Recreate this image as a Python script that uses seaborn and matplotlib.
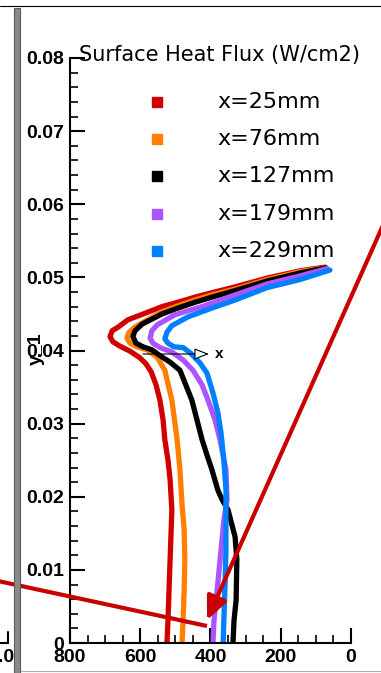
import numpy as np
import pandas as pd
import matplotlib
matplotlib.use("Agg")
import matplotlib.pyplot as plt
from matplotlib.lines import Line2D
from matplotlib.patches import Rectangle, FancyArrowPatch
from matplotlib.ticker import MultipleLocator
import seaborn as sns

# surface heat flux (W/cm2) vs y
red_x = [524, 521, 518, 515, 512, 510, 515, 521, 530, 535, 544, 555, 569, 584, 601, 629,
         658, 678, 686, 680, 663, 635, 586, 538, 493, 444, 396, 330, 239, 145, 74]
red_y = [0, 0.0031, 0.0073, 0.0114, 0.0155, 0.0182, 0.0223, 0.0250, 0.0278, 0.0305, 0.0332,
         0.0353, 0.0371, 0.0382, 0.0390, 0.0399, 0.0406, 0.0412, 0.0419, 0.0427, 0.0432,
         0.0442, 0.0451, 0.0460, 0.0466, 0.0473, 0.0479, 0.0487, 0.0499, 0.0509, 0.0514]

orange_x = [481, 478, 475, 473, 475, 481, 487, 495, 510, 530, 552, 581, 609, 629, 638, 632,
            615, 586, 538, 493, 444, 396, 330, 239, 145, 74]
orange_y = [0, 0.0031, 0.0073, 0.0114, 0.0155, 0.0189, 0.0237, 0.0278, 0.0332, 0.0373, 0.0391,
            0.0401, 0.0405, 0.0410, 0.0417, 0.0425, 0.0432, 0.0440, 0.0453, 0.0461, 0.0469,
            0.0476, 0.0484, 0.0497, 0.0508, 0.0513]

black_x = [336, 333, 327, 325, 330, 350, 367, 379, 396, 410, 424, 453, 487, 515, 544, 567,
           592, 612, 621, 615, 595, 538, 493, 444, 396, 330, 239, 145, 71]
black_y = [0, 0.0031, 0.0059, 0.0114, 0.0145, 0.0182, 0.0196, 0.0209, 0.0237, 0.0257, 0.0278,
           0.0332, 0.0373, 0.0384, 0.0393, 0.0401, 0.0405, 0.0410, 0.0419, 0.0427, 0.0436,
           0.0450, 0.0458, 0.0466, 0.0473, 0.0482, 0.0495, 0.0506, 0.0513]

purple_x = [393, 390, 381, 370, 362, 353, 356, 373, 387, 407, 424, 450, 478, 510, 544, 564,
            572, 567, 552, 501, 424, 330, 239, 145, 68]
purple_y = [0, 0.0031, 0.0073, 0.0127, 0.0168, 0.0196, 0.0237, 0.0278, 0.0305, 0.0332, 0.0353,
            0.0373, 0.0387, 0.0398, 0.0404, 0.0410, 0.0417, 0.0427, 0.0435, 0.0449, 0.0460,
            0.0476, 0.0491, 0.0502, 0.0512]

blue_x = [364, 362, 359, 356, 356, 356, 362, 370, 379, 393, 410, 430, 458, 478, 504, 521,
          530, 524, 510, 464, 396, 330, 239, 145, 60]
blue_y = [0, 0.0031, 0.0073, 0.0127, 0.0168, 0.0209, 0.0250, 0.0287, 0.0315, 0.0342, 0.0369,
          0.0383, 0.0397, 0.0404, 0.0405, 0.0410, 0.0416, 0.0425, 0.0434, 0.0446, 0.0458,
          0.0469, 0.0486, 0.0497, 0.0510]

series_names = ['x=25mm', 'x=76mm', 'x=127mm', 'x=179mm', 'x=229mm']
series_colors = ['#d00000', '#ff8000', '#000000', '#aa55ff', '#0080ff']

xticks = [800, 600, 400, 200, 0]
xtick_labels = ['800', '600', '400', '200', '0']
yticks = [0, 0.01, 0.02, 0.03, 0.04, 0.05, 0.06, 0.07, 0.08]
ytick_labels = ['0', '0.01', '0.02', '0.03', '0.04', '0.05', '0.06', '0.07', '0.08']

frames = []
for name, xs, ys in zip(series_names,
                        [red_x, orange_x, black_x, purple_x, blue_x],
                        [red_y, orange_y, black_y, purple_y, blue_y]):
    frames.append(pd.DataFrame({'flux': xs, 'y': ys, 'series': name}))
df = pd.concat(frames, ignore_index=True)

sns.set_style('ticks')
plt.rcParams['font.family'] = ['Liberation Sans', 'DejaVu Sans']
plt.rcParams['text.color'] = 'black'
plt.rcParams['axes.labelcolor'] = 'black'

W, H = 381, 673
fig = plt.figure(figsize=(W / 100, H / 100), dpi=100)
fig.patch.set_facecolor('white')


def fx(px):
    return px / W


def fy(py):
    return 1 - py / H


ax = fig.add_axes([fx(70), fy(643), 281 / W, 585 / H])
sns.lineplot(data=df, x='flux', y='y', hue='series',
             palette=dict(zip(series_names, series_colors)),
             sort=False, estimator=None, linewidth=3.8, legend=False, ax=ax)

ax.set_xlim(800, 0)
ax.set_ylim(0, 0.08)
ax.set_xticks(xticks)
ax.set_xticklabels(xtick_labels, fontweight='bold', fontsize=14)
ax.set_yticks(yticks)
ax.set_yticklabels(ytick_labels, fontweight='bold', fontsize=14)
ax.xaxis.set_minor_locator(MultipleLocator(50))
ax.yaxis.set_minor_locator(MultipleLocator(0.002))
ax.tick_params(which='major', direction='in', length=11, width=1.5, pad=4, colors='black')
ax.tick_params(which='minor', direction='in', length=6, width=1.2, colors='black')
sns.despine(ax=ax)
for side in ['left', 'bottom']:
    ax.spines[side].set_linewidth(1.5)
    ax.spines[side].set_color('black')
ax.set_xlabel('')
ax.set_ylabel('y_1', fontweight='bold', fontsize=14, color='black')
ax.yaxis.set_label_coords((45 - 70) / 281, (643 - 349) / 585)

# title and legend, tecplot style
fig.text(fx(79), fy(55), 'Surface Heat Flux (W/cm2)', fontsize=15, color='black',
         family='DejaVu Sans', va='center', ha='left')
for i, (name, col) in enumerate(zip(series_names, series_colors)):
    yy = fy(102 + i * 37.2)
    fig.add_artist(Line2D([fx(157)], [yy], marker='s', ms=7.5, color=col,
                          linestyle='none', transform=fig.transFigure))
    fig.text(fx(217), yy, name, fontsize=16, family='DejaVu Sans', color='black',
             va='center', ha='left')

# small x-direction indicator
ax.annotate('', xy=(fx(209), fy(354)), xytext=(fx(143), fy(354)),
            xycoords='figure fraction', textcoords='figure fraction',
            arrowprops=dict(arrowstyle='-|>,head_length=0.9,head_width=0.35',
                            fc='white', ec='black', lw=0.8, shrinkA=0, shrinkB=0))
fig.text(fx(219), fy(354), 'x', fontsize=11, fontweight='bold', color='black',
         va='center', ha='center')

# red annotation arrows
arrow_red = '#c80000'
fig.add_artist(Line2D([fx(-2), fx(207)], [fy(581), fy(626)], color=arrow_red, lw=3,
                      solid_capstyle='butt', transform=fig.transFigure))
fig.add_artist(FancyArrowPatch(posA=(fx(392), fy(205)), posB=(fx(207), fy(620)),
                               transform=fig.transFigure, color=arrow_red, lw=3,
                               arrowstyle='-|>,head_length=1.0,head_width=0.45',
                               mutation_scale=14, shrinkA=0, shrinkB=0))

# neighbouring panel pieces in the screenshot
fig.add_artist(Line2D([0, 1], [fy(6), fy(6)], color='black', lw=0.8, transform=fig.transFigure))
fig.add_artist(Line2D([fx(20), 1], [fy(671), fy(671)], color='#b0b0b0', lw=0.8,
                      transform=fig.transFigure))
fig.add_artist(Line2D([0, fx(8)], [fy(643), fy(643)], color='black', lw=1.5,
                      transform=fig.transFigure))
fig.add_artist(Line2D([fx(8), fx(8)], [fy(643), fy(632)], color='black', lw=1.5,
                      transform=fig.transFigure))
fig.text(fx(15), fy(658), '1.0', fontsize=14, fontweight='bold', color='black',
         va='center', ha='right')
fig.add_artist(Rectangle((fx(14), 0), 6 / W, fy(8), transform=fig.transFigure,
                         fc='#8a8a8a', ec='#5a5a5a', lw=0.8, zorder=5))

fig.savefig('out.png', dpi=100)
